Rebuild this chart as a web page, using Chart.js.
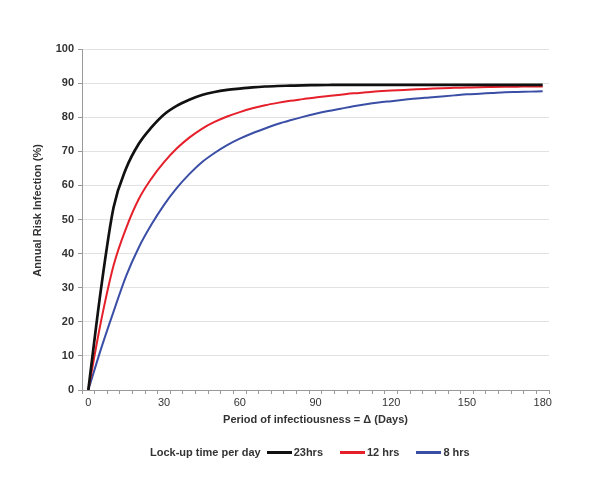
<!DOCTYPE html>
<html>
<head>
<meta charset="utf-8">
<script src="https://cdn.jsdelivr.net/npm/chart.js@4/dist/chart.umd.min.js"></script>
<style>
  body { margin: 0; background: #fff; }
  #wrap { position: relative; width: 599px; height: 480px; }
  #legend {
    position: absolute; left: 150px; top: 444px; height: 16px;
    display: flex; align-items: center;
    font: bold 11px "Liberation Sans", Arial, sans-serif; color: #333;
    white-space: nowrap;
  }
  #legend .title { margin-right: 6px; }
  #legend .swatch { width: 25px; height: 3px; margin-right: 2px; }
  #legend .label { margin-right: 17px; }
</style>
</head>
<body>
<div id="wrap">
  <canvas id="riskChart" width="599" height="480"></canvas>
  <div id="legend"></div>
</div>
<script>
// days (category axis, one category every 5 days)
const days = [0, 5, 10, 15, 20, 25, 30, 35, 40, 45, 50, 55, 60, 65, 70, 75, 80, 85, 90,
  95, 100, 105, 110, 115, 120, 125, 130, 135, 140, 145, 150, 155, 160, 165, 170, 175, 180];

const seriesLabels = ['23hrs', '12 hrs', '8 hrs'];
const seriesColors = ['#111111', '#e5202b', '#3a4ea6'];

const risk23 = [0, 29.5, 53.5, 65, 72.2, 77, 80.8, 83.3, 85.1, 86.5, 87.4, 88, 88.4, 88.75, 89,
  89.15, 89.25, 89.35, 89.4, 89.45, 89.5, 89.5, 89.5, 89.5, 89.5, 89.5, 89.5, 89.5, 89.5, 89.5,
  89.5, 89.5, 89.5, 89.5, 89.5, 89.5, 89.5];
const risk12 = [0, 20, 36.5, 47.5, 56, 62, 66.8, 70.8, 74, 76.6, 78.6, 80.2, 81.5, 82.6, 83.5,
  84.2, 84.8, 85.3, 85.8, 86.2, 86.6, 87, 87.3, 87.6, 87.8, 88, 88.2, 88.35, 88.5, 88.6,
  88.7, 88.8, 88.85, 88.9, 88.95, 89, 89];
const risk8 = [0, 12, 23, 33.5, 41.8, 48.5, 54.3, 59.2, 63.3, 66.8, 69.5, 71.8, 73.7, 75.3, 76.7,
  78, 79.1, 80.1, 81, 81.8, 82.5, 83.2, 83.8, 84.3, 84.7, 85.1, 85.5, 85.8, 86.1, 86.4,
  86.7, 86.9, 87.1, 87.3, 87.4, 87.5, 87.6];

const legendTitle = 'Lock-up time per day';
const xTitle = 'Period of infectiousness = \u0394 (Days)';
// leading spaces nudge the rotated title up a little, like the original
const yTitle = '      Annual Risk Infection (%)';

const fontFamily = '"Liberation Sans", Arial, sans-serif';
const textColor = '#333';
const axisColor = '#9a9a9a';

const allSeries = [risk23, risk12, risk8];
const widths = [2.7, 2, 2];

const ctx = document.getElementById('riskChart').getContext('2d');
new Chart(ctx, {
  type: 'line',
  data: {
    labels: days,
    datasets: allSeries.map((values, i) => ({
      label: seriesLabels[i],
      data: values,
      borderColor: seriesColors[i],
      borderWidth: widths[i],
      pointRadius: 0,
      cubicInterpolationMode: 'monotone',
      fill: false,
    })),
  },
  options: {
    responsive: false,
    animation: false,
    layout: { padding: { left: 0, right: 50, top: 49, bottom: 50 } },
    plugins: {
      legend: { display: false },
      tooltip: { enabled: false },
    },
    scales: {
      x: {
        type: 'category',
        offset: true,
        grid: {
          offset: true,
          drawOnChartArea: false,
          drawTicks: true,
          tickLength: 4,
          color: axisColor,
        },
        border: { color: axisColor, width: 1 },
        ticks: {
          autoSkip: false,
          maxRotation: 0,
          padding: 2,
          color: textColor,
          font: { family: fontFamily, size: 11 },
          callback: (value, index) => (days[index] % 30 === 0 ? String(days[index]) : ''),
        },
        title: {
          display: true,
          text: xTitle,
          color: textColor,
          font: { family: fontFamily, size: 11, weight: 'bold' },
          padding: { top: 0, bottom: 3 },
        },
        afterFit: scale => { scale.height = 40; },
      },
      y: {
        min: 0,
        max: 100,
        ticks: {
          stepSize: 10,
          padding: 4,
          color: textColor,
          font: { family: fontFamily, size: 11, weight: 'bold' },
        },
        grid: {
          color: '#e2e2e2',
          tickColor: axisColor,
          tickLength: 4,
        },
        border: { color: axisColor, width: 1 },
        title: {
          display: true,
          text: yTitle,
          color: textColor,
          font: { family: fontFamily, size: 11, weight: 'bold' },
          padding: { top: 31, bottom: 0 },
        },
        afterFit: scale => { scale.width = 82; },
      },
    },
  },
});

// legend built from the series arrays
const legend = document.getElementById('legend');
const t = document.createElement('span');
t.className = 'title';
t.textContent = legendTitle;
legend.appendChild(t);
seriesLabels.forEach((lab, i) => {
  const sw = document.createElement('span');
  sw.className = 'swatch';
  sw.style.background = seriesColors[i];
  legend.appendChild(sw);
  const l = document.createElement('span');
  l.className = 'label';
  l.textContent = lab;
  legend.appendChild(l);
});
</script>
</body>
</html>
